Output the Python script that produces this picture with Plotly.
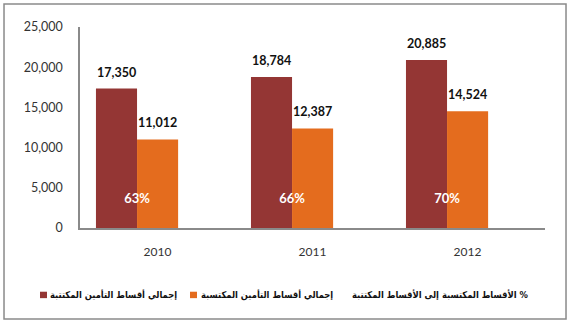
import plotly.graph_objects as go

# Data
years = ["2010", "2011", "2012"]
written = [17350, 18784, 20885]      # total written premiums
earned = [11012, 12387, 14524]       # total earned premiums
ratio_pct = [63, 66, 70]             # earned / written, %

name_written = "إجمالي أقساط التأمين المكتتبة"
name_earned = "إجمالي أقساط التأمين المكتسبة"
name_ratio = "الأقساط المكتسبة إلى الأقساط المكتتبة %"

# Style
MAROON = "#943634"
ORANGE = "#E46C1E"
AXIS_GREY = "#8a8a8a"
BAR_W = 0.265
OFF_WRITTEN = -0.397
OFF_EARNED = OFF_WRITTEN + BAR_W
PCT_LABEL_Y = 3500
NUM_FONT = "Lato, 'Liberation Sans', sans-serif"
AR_FONT = dict(size=9.3, color="#111111", family="'DejaVu Sans Condensed', 'DejaVu Sans'", weight="bold")

xs = list(range(len(years)))

fig = go.Figure()
fig.add_trace(go.Bar(
    x=xs, y=written, width=BAR_W, offset=OFF_WRITTEN,
    marker=dict(color=MAROON, line=dict(width=0)), name=name_written,
))
fig.add_trace(go.Bar(
    x=xs, y=earned, width=BAR_W, offset=OFF_EARNED,
    marker=dict(color=ORANGE, line=dict(width=0)), name=name_earned,
))
fig.add_trace(go.Scatter(
    x=[x + OFF_EARNED for x in xs], y=[PCT_LABEL_Y] * len(xs),
    mode="text", text=[f"{p}%" for p in ratio_pct],
    textposition="middle center",
    textfont=dict(color="white", size=13, family=NUM_FONT, weight="bold"),
    name=name_ratio,
))

# Value labels above each bar
annotations = []
for series, off in ((written, OFF_WRITTEN), (earned, OFF_EARNED)):
    for x, v in zip(xs, series):
        annotations.append(dict(
            x=x + off + BAR_W / 2, y=v, xref="x", yref="y",
            text=f"{v:,}", showarrow=False, yanchor="bottom", yshift=7,
            font=dict(size=12.5, color="#111111", family=NUM_FONT, weight="bold"),
        ))

# Legend row drawn under the axis: (colour swatch or None, label, swatch x0, text x)
LEG_Y = -0.333
legend_items = [
    (MAROON, name_written, -0.0860, -0.0667),
    (ORANGE, name_earned, 0.2366, 0.2581),
    (None, name_ratio, None, 0.5828),
]
shapes = [dict(
    type="rect", xref="paper", yref="paper",
    x0=-0.1634, x1=1.0452, y0=-0.4527, y1=1.1144,
    line=dict(color=AXIS_GREY, width=1.5), fillcolor="rgba(0,0,0,0)",
)]
for color, label, sx, tx in legend_items:
    if color is not None:
        shapes.append(dict(
            type="rect", xref="paper", yref="paper",
            x0=sx, x1=sx + 0.0150, y0=LEG_Y - 0.016, y1=LEG_Y + 0.016,
            line=dict(width=0), fillcolor=color,
        ))
    annotations.append(dict(
        x=tx, y=LEG_Y, xref="paper", yref="paper", text=label,
        showarrow=False, xanchor="left", yanchor="middle", borderpad=0,
        font=AR_FONT,
    ))

fig.update_layout(
    width=570, height=325,
    margin=dict(l=80, r=25, t=27, b=97),
    paper_bgcolor="white", plot_bgcolor="white",
    barmode="overlay",
    showlegend=False,
    annotations=annotations,
    shapes=shapes,
)

fig.update_xaxes(
    range=[-0.5, 2.5], tickvals=xs, ticktext=years,
    showgrid=False, zeroline=False,
    showline=True, linecolor=AXIS_GREY, linewidth=1.5,
    ticks="", ticklabelstandoff=12,
    tickfont=dict(size=12, color="#333333", family=NUM_FONT),
)
fig.update_yaxes(
    range=[0, 25000], dtick=5000, tickformat=",",
    showgrid=False, zeroline=False,
    showline=True, linecolor=AXIS_GREY, linewidth=1.5,
    ticks="", ticklabelstandoff=13,
    tickfont=dict(size=12.5, color="#333333", family=NUM_FONT),
)

fig.write_html("out.html")
